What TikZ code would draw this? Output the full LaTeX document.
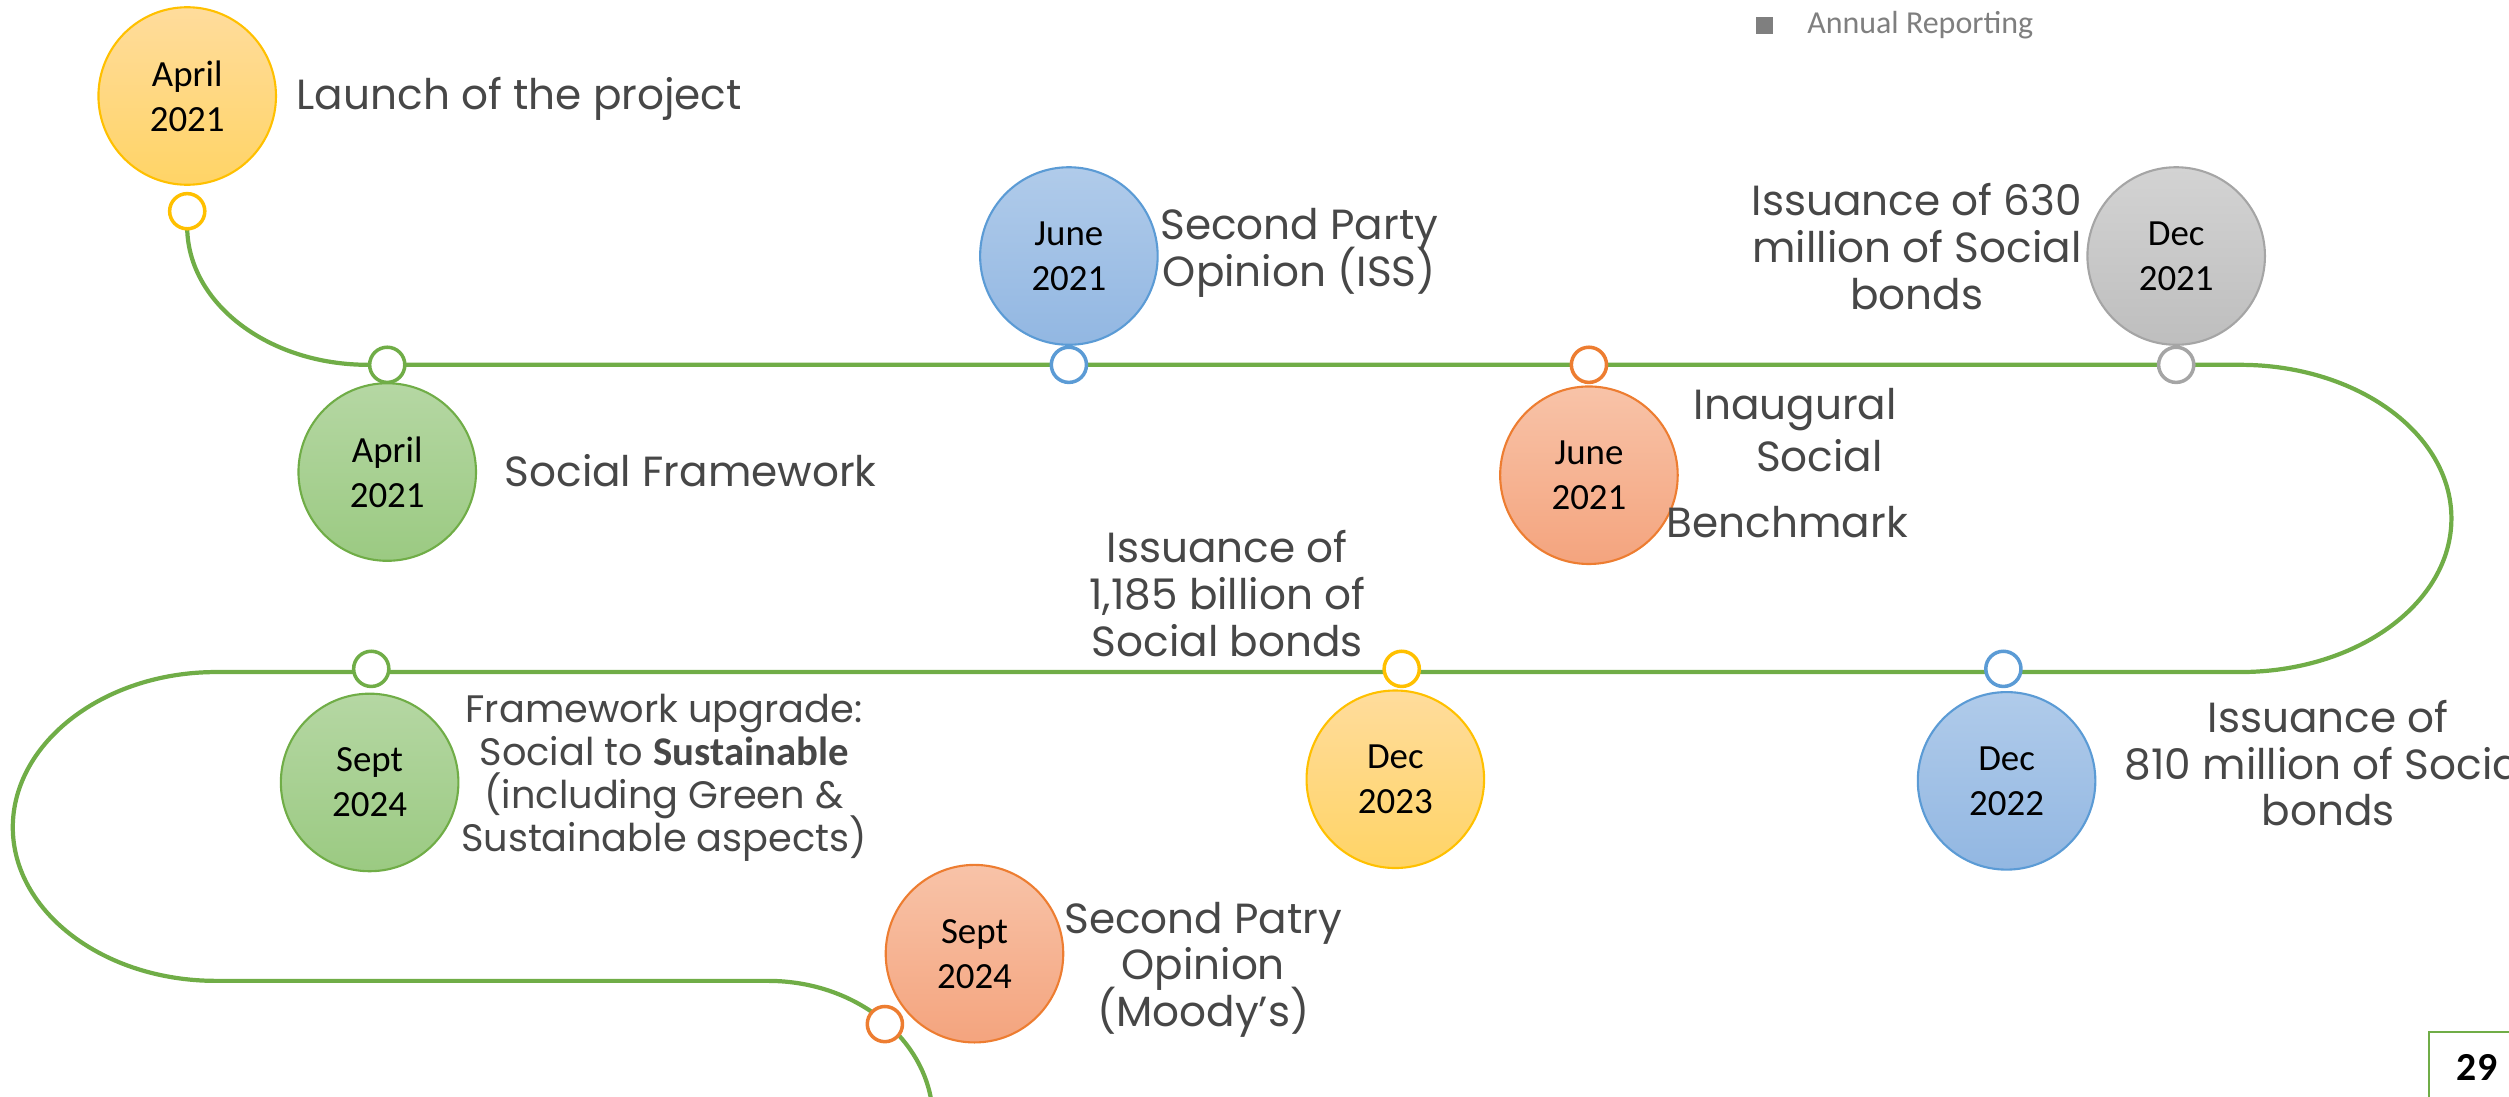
\documentclass[tikz,border=0pt]{standalone}
\usepackage{fontspec}
\setmainfont{Poppins}
\newfontfamily\calfont{Carlito}
\newcommand\tightlines{\lineskiplimit=-100pt\relax\lineskip=0pt\relax}
\definecolor{tlgreen}{HTML}{70AD47}
\definecolor{txtgray}{HTML}{474747}
\definecolor{lightgray}{HTML}{7F7F7F}
\definecolor{yelD}{HTML}{FFC000}
\definecolor{yelT}{HTML}{FFDC9C}
\definecolor{yelB}{HTML}{FFD466}
\definecolor{grnD}{HTML}{70AD47}
\definecolor{grnT}{HTML}{B5D7A3}
\definecolor{grnB}{HTML}{9BCA82}
\definecolor{bluD}{HTML}{5B9BD5}
\definecolor{bluT}{HTML}{B0CBEA}
\definecolor{bluB}{HTML}{92B7E2}
\definecolor{orgD}{HTML}{ED7D31}
\definecolor{orgT}{HTML}{F8C3A8}
\definecolor{orgB}{HTML}{F4A47E}
\definecolor{gryD}{HTML}{A5A5A5}
\definecolor{gryT}{HTML}{D3D3D3}
\definecolor{gryB}{HTML}{BEBEBE}
\begin{document}
\begin{tikzpicture}[x=0.016cm,y=-0.016cm,
  big/.style={circle, minimum size=1.776cm, inner sep=0pt, align=center,
    font=\calfont\fontsize{10.5}{12.8}\selectfont, line width=0.6pt},
  ybig/.style={big, draw=yelD, top color=yelT, bottom color=yelB},
  gbig/.style={big, draw=grnD, top color=grnT, bottom color=grnB},
  bbig/.style={big, draw=bluD, top color=bluT, bottom color=bluB},
  obig/.style={big, draw=orgD, top color=orgT, bottom color=orgB},
  sbig/.style={big, draw=gryD, top color=gryT, bottom color=gryB},
  mk/.style={circle, minimum size=0.352cm, inner sep=0pt, fill=white, line width=1pt},
  lbl/.style={text=txtgray, align=center, inner sep=0pt,
    font=\fontsize{12}{13.3}\selectfont\tightlines},
  slbl/.style={text=txtgray, align=center, inner sep=0pt,
    font=\fontsize{10.9}{12.3}\selectfont\tightlines},
  tl/.style={draw=tlgreen, line width=1.2pt}
]
\useasboundingbox (0,0) rectangle (1568,685);
\clip (0,0) rectangle (1568,685);

\coordinate (p1) at (117,132);
% timeline
\draw[tl] (117,143) .. controls (118,190) and (168,228) .. (230,228)
  -- (1400,228) .. controls (1473,228) and (1532,271) .. (1532,324)
  .. controls (1532,377) and (1473,420) .. (1400,420)
  -- (135,420) .. controls (65,420) and (8,464) .. (8,517)
  .. controls (8,570) and (65,613) .. (135,613)
  -- (480,613) .. controls (537,613) and (583,652) .. (583,700);

\node[mk, draw=yelD] (m1) at (p1) {};
\node[mk, draw=grnD] (m2) at (242,228) {};
\node[mk, draw=bluD] (m3) at (668,228) {};
\node[mk, draw=orgD] (m4) at (993,228) {};
\node[mk, draw=gryD] (m5) at (1360,228) {};
\node[mk, draw=bluD] (m6) at (1252,418) {};
\node[mk, draw=yelD] (m7) at (876,418) {};
\node[mk, draw=grnD] (m8) at (232,418) {};
\node[mk, draw=orgD] (m9) at (553,640) {};

% big date circles
\node[ybig] (c1) at (117,60) {April\\2021};
\node[gbig] (c2) at (242,295) {April\\2021};
\node[bbig] (c3) at (668,160) {June\\2021};
\node[obig] (c4) at (993,297) {June\\2021};
\node[sbig] (c5) at (1360,160) {Dec\\2021};
\node[bbig] (c6) at (1254,488) {Dec\\2022};
\node[ybig] (c7) at (872,487) {Dec\\2023};
\node[gbig] (c8) at (231,489) {Sept\\2024};
\node[obig] (c9) at (609,596) {Sept\\2024};

% labels
\node[lbl, anchor=west] (t1) at (185,62) {Launch of the project};
\node[lbl] (t2) at (812,158) {Second Party\\Opinion (ISS)};
\node[lbl] (t3) at (1198,154) {Issuance of 630\\million of Social\\bonds};
\node[lbl] (t4a) at (1122,256) {Inaugural};
\node[lbl] (t4b) at (1137,285) {Social};
\node[lbl] (t4c) at (1117,326) {Benchmark};
\node[lbl, anchor=west] (t5) at (315,294) {Social Framework};
\node[lbl] (t6) at (767,371) {Issuance of\\1,185 billion of\\Social bonds};
\node[lbl] (t7) at (1455,477) {Issuance of\\810 million of Social\\bonds};
\node[slbl] (t8) at (415,486) {Framework upgrade:\\Social to {\calfont\bfseries\fontsize{11.6}{12.3}\selectfont Sustainable}\\(including Green \&\\Sustainable aspects)};
\node[lbl] (t9) at (752,606) {Second Patry\\Opinion\\(Moody’s)};

% legend
\node[fill=lightgray, minimum size=0.17cm, inner sep=0pt] (sq) at (1103,16) {};
\node[anchor=west, inner sep=0pt, text=lightgray, font=\calfont\fontsize{9.1}{11}\selectfont] (ar) at (1129,16) {Annual Reporting};

% page number
\coordinate (pb) at (1518,720);
\coordinate (pr) at (1620,645);
\draw[draw=tlgreen, line width=0.8pt] (pb) |- (pr);
\node[font=\calfont\bfseries\fontsize{11.3}{13}\selectfont] (pn) at (1548,667) {29};

% clipped vertical side text
\node[rotate=90, anchor=base west, inner sep=0pt, text=lightgray,
  font=\calfont\fontsize{11}{13}\selectfont] (side) at (-2,665) {Direction Financière};
\end{tikzpicture}
\end{document}
